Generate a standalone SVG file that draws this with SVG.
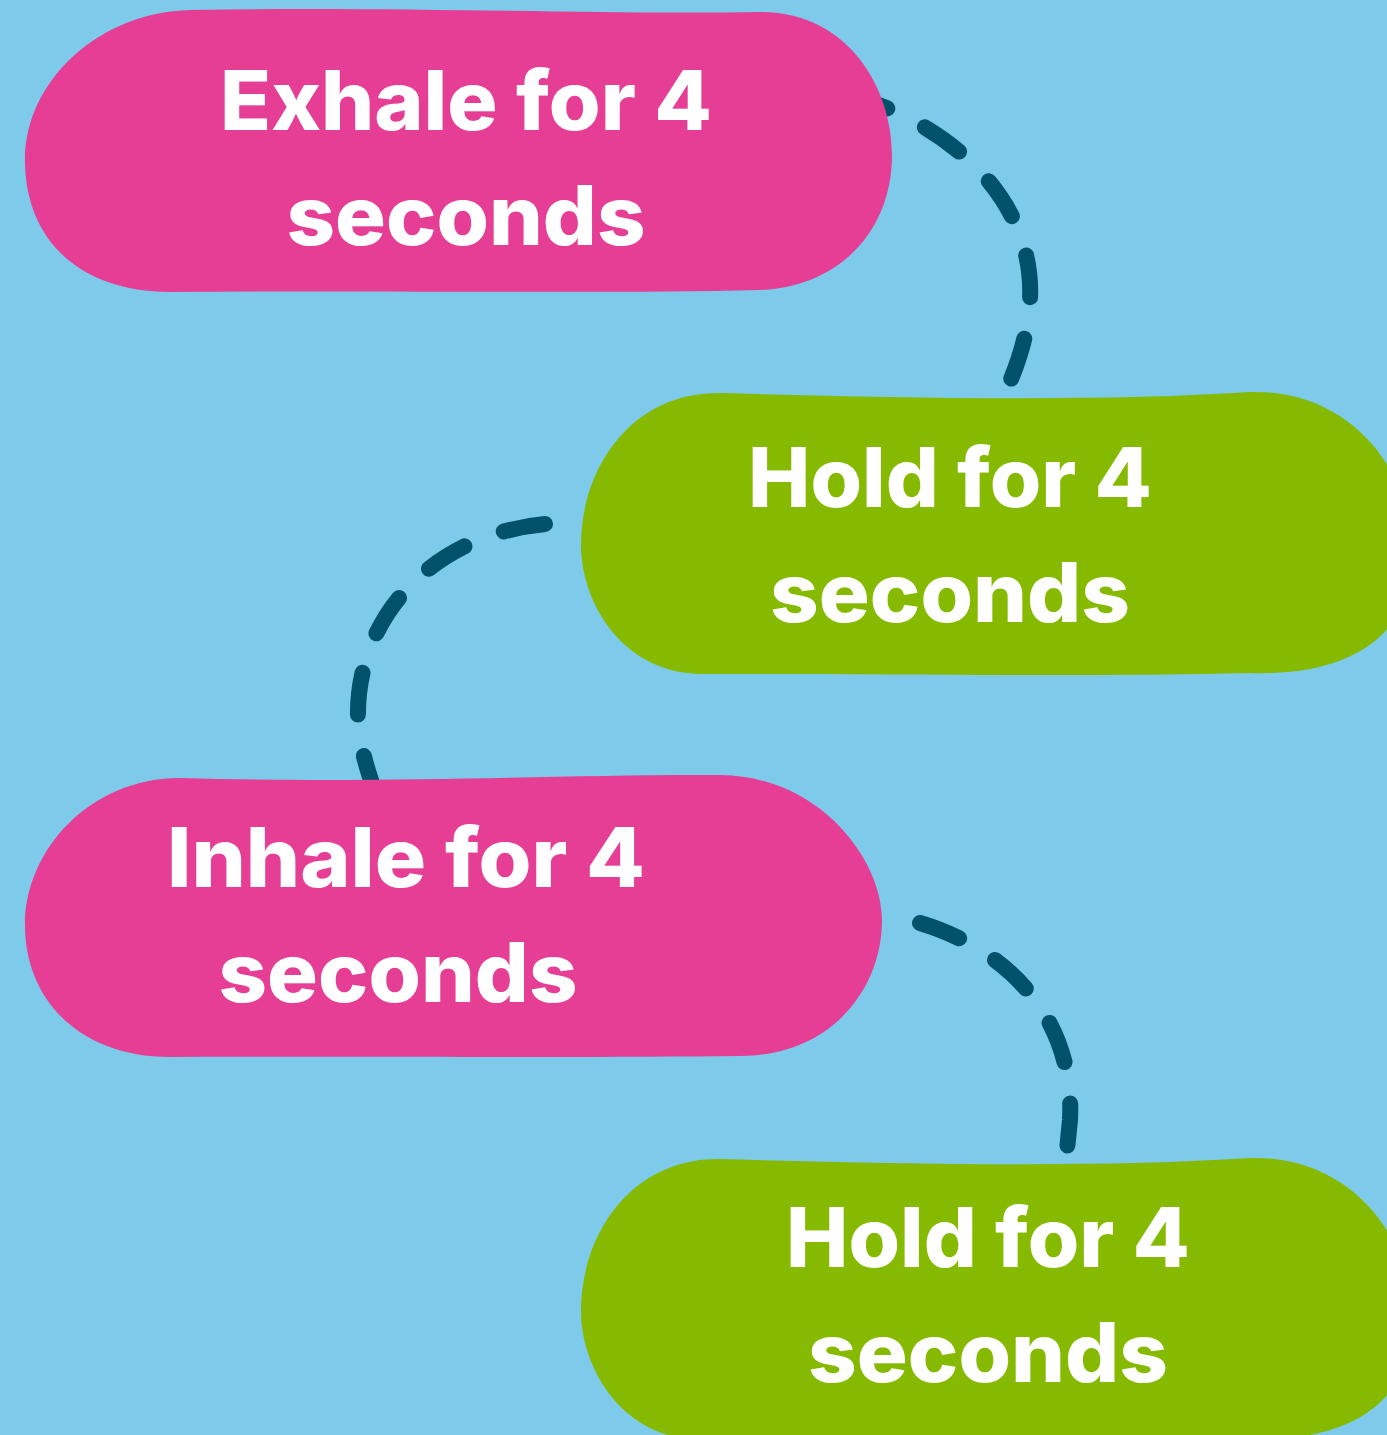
<svg xmlns="http://www.w3.org/2000/svg" width="1387" height="1435" viewBox="0 0 1387 1435">
<style>
.pink{fill:#E63E95}
.green{fill:#86BA00}
.lbl{font-family:Inter,"Open Sans","Liberation Sans",sans-serif;font-weight:800;font-size:82px;fill:#FFFFFF;text-anchor:middle}
.conn{fill:none;stroke:#01516B;stroke-width:16;stroke-linecap:round;stroke-dasharray:42 42}
</style>
<defs>
<path id="greenBlob" d="M 720,393 C 900,398 1100,402 1250,392 C 1330,390 1380,440 1400,490 L 1400,610 C 1380,650 1330,676 1250,673 C 1100,677 900,674 700,674 C 620,672 581,600 581,545 C 581,470 630,392 720,393 Z"/>
</defs>
<rect x="0" y="0" width="1387" height="1435" fill="#7ECAEA"/>
<g id="connectors">
<path class="conn" d="M 838,92 C 950,120 1035,200 1030,300 C 1028,335 1018,365 1002,400" stroke-dashoffset="-10"/>
<path class="conn" d="M 545,524 C 430,535 355,620 358,720 C 360,745 366,768 378,800"/>
<path class="conn" d="M 920,923 C 1010,950 1075,1020 1070,1120 L 1064,1180"/>
</g>
<g id="node-exhale">
<path class="pink" d="M 190,10 C 400,6 600,15 760,12 C 850,12 892,90 892,155 C 892,230 840,287 760,290 C 600,294 400,290 170,292 C 80,292 25,240 25,160 C 25,80 100,12 190,10 Z"/>
<text class="lbl" x="466" y="130" textLength="492" lengthAdjust="spacingAndGlyphs">Exhale for 4</text>
<text class="lbl" x="466" y="245" textLength="359" lengthAdjust="spacingAndGlyphs">seconds</text>
</g>
<g id="node-hold1">
<use href="#greenBlob" class="green"/>
<text class="lbl" x="950" y="507" textLength="404" lengthAdjust="spacingAndGlyphs">Hold for 4</text>
<text class="lbl" x="950" y="622" textLength="360" lengthAdjust="spacingAndGlyphs">seconds</text>
</g>
<g id="node-inhale">
<path class="pink" d="M 180,778 C 400,784 560,774 720,775 C 820,776 882,860 882,920 C 882,990 830,1056 740,1056 C 580,1058 380,1056 170,1057 C 80,1057 25,1000 25,925 C 25,850 90,778 180,778 Z"/>
<text class="lbl" x="406" y="887" textLength="478" lengthAdjust="spacingAndGlyphs">Inhale for 4</text>
<text class="lbl" x="398" y="1002" textLength="359" lengthAdjust="spacingAndGlyphs">seconds</text>
</g>
<g id="node-hold2">
<use href="#greenBlob" class="green" transform="translate(0,766)"/>
<text class="lbl" x="988" y="1267" textLength="404" lengthAdjust="spacingAndGlyphs">Hold for 4</text>
<text class="lbl" x="988" y="1382" textLength="360" lengthAdjust="spacingAndGlyphs">seconds</text>
</g>
</svg>
